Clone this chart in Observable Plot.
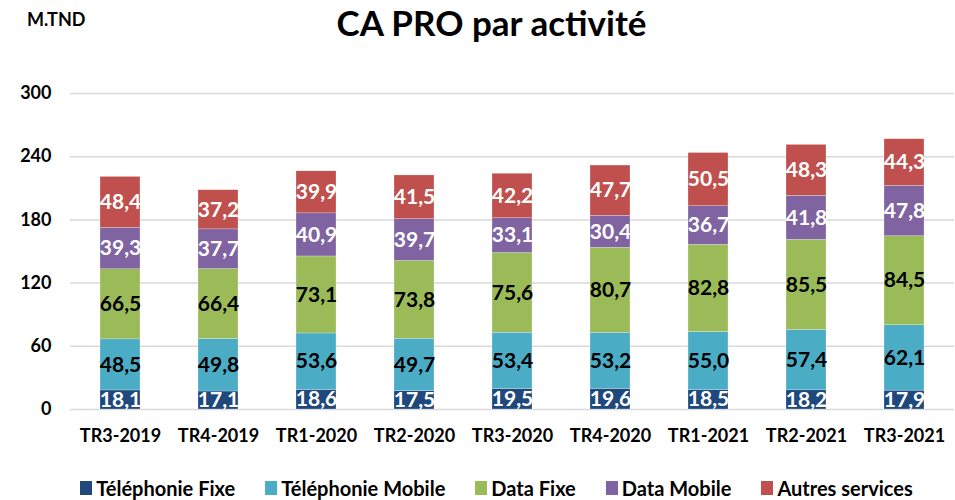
<!DOCTYPE html>
<html>
<head>
<meta charset="utf-8">
<script src="https://cdn.jsdelivr.net/npm/d3@7"></script>
<script src="https://cdn.jsdelivr.net/npm/@observablehq/plot@0.6"></script>
<style>
  body { margin: 0; background: #fff; font-family: Lato, "Open Sans", sans-serif; }
  #wrap { width: 955px; }
  #head { position: relative; height: 60px; }
  #unit { position: absolute; left: 27px; top: 8px; font-size: 18px; font-weight: bold; color: #000; }
  #title { position: absolute; left: 14px; width: 955px; text-align: center; top: 1px; font-size: 35px; font-weight: bold; color: #000; }
  #legend { display: flex; justify-content: center; gap: 30px; height: 45px; padding-top: 20px; padding-left: 38px; box-sizing: border-box; font-size: 20px; font-weight: bold; color: #000; }
  #legend .it { display: flex; align-items: center; gap: 4px; }
  #legend .sw { width: 12px; height: 14px; }
</style>
</head>
<body>
<div id="wrap">
  <div id="head"><div id="unit">M.TND</div><div id="title">CA PRO par activité</div></div>
  <div id="chart"></div>
  <div id="legend"></div>
</div>
<script>
const periods = ["TR3-2019","TR4-2019","TR1-2020","TR2-2020","TR3-2020","TR4-2020","TR1-2021","TR2-2021","TR3-2021"];
const seriesNames = ["Téléphonie Fixe","Téléphonie Mobile","Data Fixe","Data Mobile","Autres services"];
const seriesColors = ["#1F497D","#4BACC6","#9BBB59","#8064A2","#C0504D"];
const labelColors = ["white","black","black","white","white"];
const telephonieFixe   = [18.1, 17.1, 18.6, 17.5, 19.5, 19.6, 18.5, 18.2, 17.9];
const telephonieMobile = [48.5, 49.8, 53.6, 49.7, 53.4, 53.2, 55.0, 57.4, 62.1];
const dataFixe         = [66.5, 66.4, 73.1, 73.8, 75.6, 80.7, 82.8, 85.5, 84.5];
const dataMobile       = [39.3, 37.7, 40.9, 39.7, 33.1, 30.4, 36.7, 41.8, 47.8];
const autresServices   = [48.4, 37.2, 39.9, 41.5, 42.2, 47.7, 50.5, 48.3, 44.3];
const yTicks = [0, 60, 120, 180, 240, 300];

const seriesValues = [telephonieFixe, telephonieMobile, dataFixe, dataMobile, autresServices];
const rows = [];
periods.forEach((p, i) => {
  let base = 0;
  seriesValues.forEach((vals, s) => {
    const v = vals[i];
    rows.push({period: p, series: seriesNames[s], value: v, mid: base + v / 2, labelColor: labelColors[s]});
    base += v;
  });
});
const fmt = v => v.toFixed(1).replace(".", ",");

const chart = Plot.plot({
  width: 955,
  height: 395,
  marginLeft: 70,
  marginRight: 1,
  marginTop: 33,
  marginBottom: 46,
  style: {fontFamily: "Lato, 'Open Sans', sans-serif", fontWeight: "bold", fontSize: "18px", color: "#000", background: "transparent"},
  x: {domain: periods, padding: 0, label: null, tickSize: 0, tickPadding: 20},
  y: {domain: [0, 300], ticks: yTicks, label: null, tickSize: 0, tickPadding: 19},
  color: {domain: seriesNames, range: seriesColors},
  marks: [
    Plot.ruleY(yTicks, {stroke: "#d9d9d9", strokeWidth: 1.5}),
    Plot.barY(rows, {x: "period", y: "value", fill: "series", order: seriesNames, insetLeft: 29, insetRight: 29, stroke: "#ffffff", strokeWidth: 0.4, strokeOpacity: 0.6}),
    Plot.text(rows.filter(d => d.labelColor === "white"), {x: "period", y: "mid", text: d => fmt(d.value), fill: "white", fontSize: 21, fontWeight: "bold", clip: true}),
    Plot.text(rows.filter(d => d.labelColor === "black"), {x: "period", y: "mid", text: d => fmt(d.value), fill: "black", fontSize: 21, fontWeight: "bold", clip: true})
  ]
});
document.getElementById("chart").appendChild(chart);

const legend = document.getElementById("legend");
seriesNames.forEach((n, i) => {
  const it = document.createElement("div");
  it.className = "it";
  const sw = document.createElement("div");
  sw.className = "sw";
  sw.style.background = seriesColors[i];
  const t = document.createElement("span");
  t.textContent = n;
  it.appendChild(sw); it.appendChild(t);
  legend.appendChild(it);
});
</script>
</body>
</html>
